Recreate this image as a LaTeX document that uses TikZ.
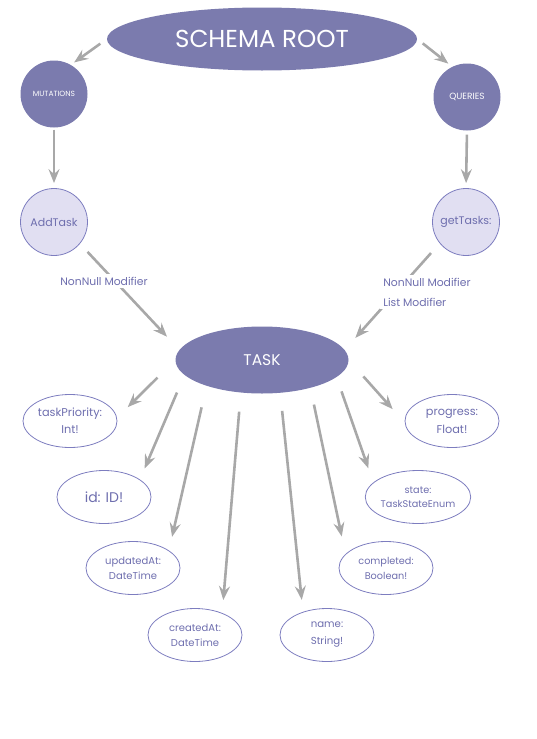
\documentclass[tikz,border=0pt]{standalone}
\usepackage{fontspec}
\setmainfont{Poppins}
\usetikzlibrary{shapes.geometric,arrows.meta}

\definecolor{gqdark}{HTML}{7B7BAE}
\definecolor{gqlight}{HTML}{E1DFF2}
\definecolor{gqline}{HTML}{7D7DBF}
\definecolor{gqtext}{HTML}{6E6EAE}
\definecolor{gqarrow}{HTML}{A8A8A8}

\newcommand{\fsz}[2]{\fontsize{#1}{#2}\selectfont}

\begin{document}
\begin{tikzpicture}[x=1pt,y=-1pt,
  root/.style={ellipse,fill=gqdark,text=white,inner sep=0pt,minimum width=310,minimum height=63,font=\fsz{24.5pt}{28pt}},
  task/.style={ellipse,fill=gqdark,text=white,inner sep=0pt,minimum width=173,minimum height=67,font=\fsz{15.5pt}{18pt}},
  top/.style={circle,fill=gqdark,text=white,inner sep=0pt,minimum size=67,font=\fsz{7.5pt}{9pt}},
  op/.style={circle,fill=gqlight,draw=gqline,line width=0.8pt,text=gqtext,inner sep=0pt,minimum size=67,font=\fsz{11pt}{13pt}},
  field/.style={ellipse,draw=gqline,line width=0.8pt,text=gqtext,inner sep=0pt,minimum width=94,minimum height=53,align=center},
  modif/.style={fill=white,text=gqtext,inner sep=3pt,align=left,font=\fsz{10.8pt}{20pt}},
  arr/.style={draw=gqarrow,line width=2.6pt,-{Stealth[length=14pt,width=11pt,inset=5pt]}}]
\useasboundingbox (0,0) rectangle (536,739);

\node[root] (root) at (262,39) {SCHEMA ROOT};
\node[top] (mut) at (54,94) {MUTATIONS};
\node[top,font=\fsz{9pt}{11pt}] (qry) at (467,97) {QUERIES};
\node[op] (add) at (54,222) {AddTask};
\node[op] (get) at (466,222) {getTasks:};
\node[task] (task) at (262,360) {TASK};

\node[field,font=\fsz{11.3pt}{17pt}] (prio) at (70,421) {taskPriority:\\Int!};
\node[field,font=\fsz{14pt}{16pt}] (id) at (104,497) {id: ID!};
\node[field,font=\fsz{10pt}{15pt}] (upd) at (133,568) {updatedAt:\\DateTime};
\node[field,font=\fsz{10pt}{15pt}] (crt) at (195,635) {createdAt:\\DateTime};
\node[field,font=\fsz{10.2pt}{17pt}] (name) at (327,635) {name:\\String!};
\node[field,font=\fsz{9.7pt}{15pt}] (comp) at (386,568) {completed:\\Boolean!};
\node[field,font=\fsz{9.7pt}{14pt}] (state) at (418,497) {state:\\TaskStateEnum};
\node[field,font=\fsz{11.3pt}{18pt}] (prog) at (452,421) {progress:\\Float!};

\draw[arr,shorten <=8pt,shorten >=4pt] (root.180) -- (mut.60);
\draw[arr,shorten <=7pt,shorten >=5pt] (root.0) -- (qry.116);
\draw[arr,shorten <=2pt,shorten >=5pt] (mut.south) -- (add.north);
\draw[arr,shorten <=4pt,shorten >=5pt] (qry.south) -- (get.north);
\draw[arr,shorten <=11pt,shorten >=18pt] (add.320) -- (task.173);
\draw[arr,shorten <=13pt,shorten >=16pt] (get.219) -- (task.7);

\node[modif] (nn) at (104,281) {NonNull Modifier};
\node[modif] (lm) at (427,292) {NonNull Modifier\\List Modifier};

\draw[arr,shorten <=25pt,shorten >=15pt] (task.180) -- (prio.4);
\draw[arr,shorten <=19pt,shorten >=12pt] (task.191) -- (id.26);
\draw[arr,shorten <=22pt,shorten >=14pt] (task.205) -- (upd.26);
\draw[arr,shorten <=19pt,shorten >=13pt] (task.237) -- (crt.39);
\draw[arr,shorten <=18pt,shorten >=12pt] (task.299) -- (name.136);
\draw[arr,shorten <=17pt,shorten >=18pt] (task.330) -- (comp.161);
\draw[arr,shorten <=15pt,shorten >=15pt] (task.347) -- (state.162);
\draw[arr,shorten <=22pt,shorten >=18pt] (task.0) -- (prog.182);

\end{tikzpicture}
\end{document}
